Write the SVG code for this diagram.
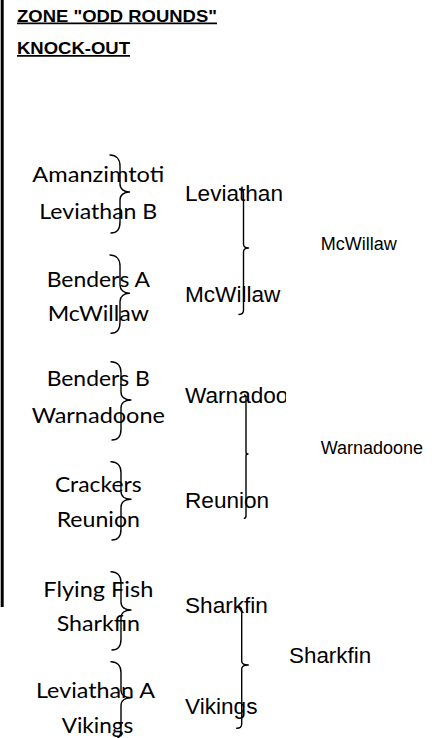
<svg xmlns="http://www.w3.org/2000/svg" width="443" height="738" viewBox="0 0 443 738">
<style>
  .title { font-family: "Liberation Sans", Arial, sans-serif; font-weight: bold; font-size: 17.3px; fill: #000; text-decoration: underline; }
  .r1 { font-family: Lato, "Open Sans", sans-serif; font-size: 20.5px; fill: #000; text-anchor: middle; }
  .r2 { font-family: "Liberation Sans", Arial, sans-serif; font-size: 22.6px; fill: #000; }
  .r3 { font-family: "Liberation Sans", Arial, sans-serif; font-size: 18px; fill: #000; }
  .r3b { font-family: "Liberation Sans", Arial, sans-serif; font-size: 22.4px; fill: #000; }
  .brace { fill: none; stroke: #000; stroke-width: 1.4; stroke-linecap: round; stroke-linejoin: round; }
</style>
<defs>
  <clipPath id="clipWarna"><rect x="180" y="370" width="106" height="45"/></clipPath>
</defs>
<rect x="0" y="0" width="443" height="738" fill="#fff"/>
<line x1="2.2" y1="0" x2="2.2" y2="607" stroke="#000" stroke-width="3"/>

<g id="title">
  <text class="title" x="17" y="21.5" textLength="200" lengthAdjust="spacingAndGlyphs">ZONE "ODD ROUNDS"</text>
  <text class="title" x="17" y="54" textLength="113" lengthAdjust="spacingAndGlyphs">KNOCK-OUT</text>
</g>

<g id="r1-amanzimtoti"><text class="r1" x="98.3" y="181.7" textLength="132" lengthAdjust="spacingAndGlyphs">Amanzimtoti</text></g>
<g id="r1-leviathan-b"><text class="r1" x="98.3" y="218.5" textLength="118" lengthAdjust="spacingAndGlyphs">Leviathan B</text></g>
<g id="r1-benders-a"><text class="r1" x="98.3" y="286.7" textLength="103.3" lengthAdjust="spacingAndGlyphs">Benders A</text></g>
<g id="r1-mcwillaw"><text class="r1" x="98.3" y="321" textLength="101.3" lengthAdjust="spacingAndGlyphs">McWillaw</text></g>
<g id="r1-benders-b"><text class="r1" x="98.3" y="386" textLength="103.3" lengthAdjust="spacingAndGlyphs">Benders B</text></g>
<g id="r1-warnadoone"><text class="r1" x="98.3" y="422.7" textLength="133.3" lengthAdjust="spacingAndGlyphs">Warnadoone</text></g>
<g id="r1-crackers"><text class="r1" x="98.3" y="491.7" textLength="86.7" lengthAdjust="spacingAndGlyphs">Crackers</text></g>
<g id="r1-reunion"><text class="r1" x="98.3" y="527.3" textLength="83.3" lengthAdjust="spacingAndGlyphs">Reunion</text></g>
<g id="r1-flying-fish"><text class="r1" x="98.3" y="597.3" textLength="110" lengthAdjust="spacingAndGlyphs">Flying Fish</text></g>
<g id="r1-sharkfin"><text class="r1" x="98.3" y="630.7" textLength="83.3" lengthAdjust="spacingAndGlyphs">Sharkfin</text></g>
<g id="r1-leviathan-a"><text class="r1" x="95.5" y="697.7" textLength="119" lengthAdjust="spacingAndGlyphs">Leviathan A</text></g>
<g id="r1-vikings"><text class="r1" x="97.5" y="733.3" textLength="71.7" lengthAdjust="spacingAndGlyphs">Vikings</text></g>

<g id="r2-leviathan"><text class="r2" x="185" y="200.7">Leviathan</text></g>
<g id="r2-mcwillaw"><text class="r2" x="185" y="301.7">McWillaw</text></g>
<g id="r2-warnadoone"><text class="r2" x="185" y="403.3" clip-path="url(#clipWarna)">Warnadoone</text></g>
<g id="r2-reunion"><text class="r2" x="185" y="508.3">Reunion</text></g>
<g id="r2-sharkfin"><text class="r2" x="185" y="613.3">Sharkfin</text></g>
<g id="r2-vikings"><text class="r2" x="185" y="714">Vikings</text></g>

<g id="r3-mcwillaw"><text class="r3" x="320.7" y="250">McWillaw</text></g>
<g id="r3-warnadoone"><text class="r3" x="320.7" y="454.3">Warnadoone</text></g>
<g id="r3-sharkfin"><text class="r3b" x="289" y="663.3">Sharkfin</text></g>

<g id="connectors">
  <!-- round 1 braces -->
  <path class="brace" d="M110,155 C116,155 120,159 120,166 L120,184 C120,189 124,192 129.5,192 C124,192 120,195 120,200 L120,222 C120,229 117,233 111,233"/>
  <path class="brace" d="M110,255 C116,255 120,259 120,266 L120,285 C120,290 124,293.3 129.5,293.3 C124,293.3 120,296.5 120,301.5 L120,322 C120,329 117,333.3 111,333.3"/>
  <path class="brace" d="M111,361.7 C117,361.7 121,365.7 121,372.7 L121,392 C121,397 125,400 131,400 C125,400 121,403 121,408 L121,429 C121,436 118,440 112,440"/>
  <path class="brace" d="M111,461.7 C117,461.7 121,465.7 121,472.7 L121,491.3 C121,496.3 125,499.3 131,499.3 C125,499.3 121,502.3 121,507.3 L121,529 C121,536 118,540 112,540"/>
  <path class="brace" d="M111,571.7 C117,571.7 121,575.7 121,582.7 L121,602 C121,607 125,610 131,610 C125,610 121,613 121,618 L121,639 C121,646 118,650 112,650"/>
  <path class="brace" d="M111,661.7 C117,661.7 121,665.7 121,672.7 L121,689.7 C121,694.7 125,697.7 131,697.7 C125,697.7 121,700.7 121,705.7 L121,729 C121,736 118,740 112,740"/>
  <!-- round 2 braces -->
  <path class="brace" d="M239.5,189 C242,189 243.5,190.5 243.5,193 L243.5,244 C243.5,246.5 245.5,248 248.5,248 C245.5,248 243.5,249.5 243.5,252 L243.5,310 C243.5,313 241.5,314.5 239,314.5"/>
  <path class="brace" d="M244.5,395 C245.5,395 246,396 246,397.5 L246,452.5 C246,453.5 247,454 248,454 C247,454 246,454.5 246,455.5 L246,515.5 C246,517 245.5,518.3 244.3,518.3"/>
  <path class="brace" d="M238,606.7 C240.5,606.7 241.7,608.5 241.7,611 L241.7,661 C241.7,663.5 244.5,665 248.3,665 C244.5,665 241.7,666.5 241.7,669 L241.7,724 C241.7,727 239.5,728.3 236.7,728.3"/>
</g>
</svg>
